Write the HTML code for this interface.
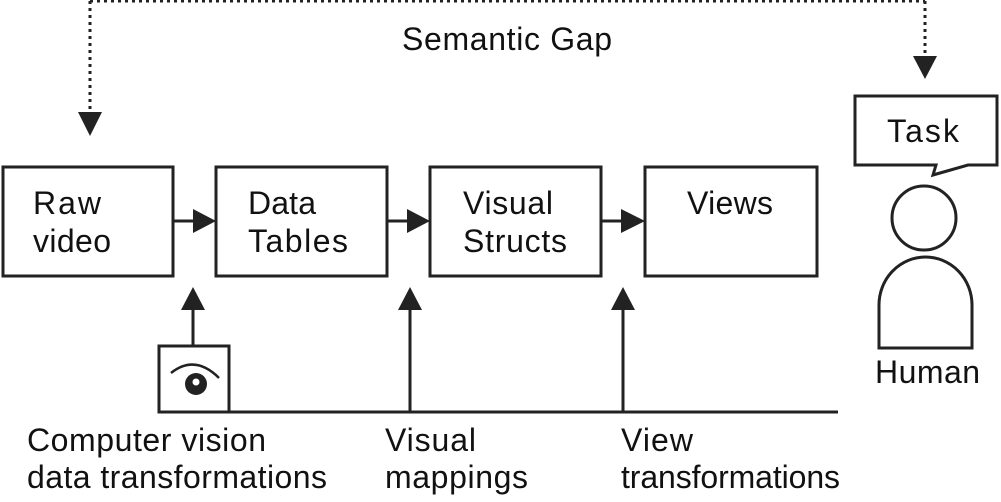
<!DOCTYPE html>
<html><head><style>
body{margin:0;background:#fff;}
svg text{font-family:"Liberation Sans",Arial,sans-serif;font-size:32px;fill:#111;}
</style></head><body>
<svg width="1001" height="497" viewBox="0 0 1001 497" xmlns="http://www.w3.org/2000/svg">
<g stroke="#222" fill="none" stroke-width="3">
<path d="M90 1 H925" stroke-dasharray="3 4"/>
<path d="M90 1 V112" stroke-dasharray="3 4"/>
<path d="M925 1 V56" stroke-dasharray="3 4"/>
<rect x="3" y="167" width="170" height="109"/>
<rect x="216" y="167" width="171" height="109"/>
<rect x="430" y="167" width="171" height="109"/>
<rect x="645" y="167" width="172" height="109"/>
<path d="M173 221 H196 M387 221 H409 M601 221 H623"/>
<path d="M855 96 H997 V165 H968 L933 175 L936 165 H855 Z"/>
<circle cx="924" cy="218" r="32"/>
<path d="M879 348 V305 A46.5 48 0 0 1 972 305 V348 Z"/>
<rect x="159" y="346" width="70" height="66"/>
<path d="M229 412 H838 M193 346 V310 M410 412 V310 M623 412 V310"/>
<path d="M171 373 Q195 354 219 378" stroke-width="2.5"/>
</g>
<g fill="#222">
<path d="M78 112 H102 L90 136 Z"/>
<path d="M913 56 H937 L925 79 Z"/>
<path d="M193 209 L216 221 L193 233 Z"/>
<path d="M407 209 L430 221 L407 233 Z"/>
<path d="M621 209 L645 221 L621 233 Z"/>
<path d="M181 310 L193 287 L205 310 Z"/>
<path d="M398 310 L410 287 L422 310 Z"/>
<path d="M611 310 L623 287 L635 310 Z"/>
<circle cx="196" cy="384" r="11"/>
<circle cx="196" cy="382" r="3.5" fill="#fff"/>
</g>
<text x="402" y="50" textLength="210">Semantic Gap</text>
<text x="33" y="214" textLength="68">Raw</text><text x="33" y="252" textLength="78">video</text>
<text x="248" y="214" textLength="68">Data</text><text x="248" y="252" textLength="100">Tables</text>
<text x="463" y="214" textLength="90">Visual</text><text x="463" y="252" textLength="104">Structs</text>
<text x="687" y="214" textLength="86">Views</text>
<text x="887" y="142" textLength="72">Task</text>
<text x="875" y="383" textLength="105">Human</text>
<text x="27" y="451" textLength="239">Computer vision</text><text x="27" y="488" textLength="300">data transformations</text>
<text x="385" y="451" textLength="91">Visual</text><text x="385" y="488" textLength="143">mappings</text>
<text x="621" y="451" textLength="72">View</text><text x="621" y="488" textLength="219">transformations</text>
</svg>
</body></html>
